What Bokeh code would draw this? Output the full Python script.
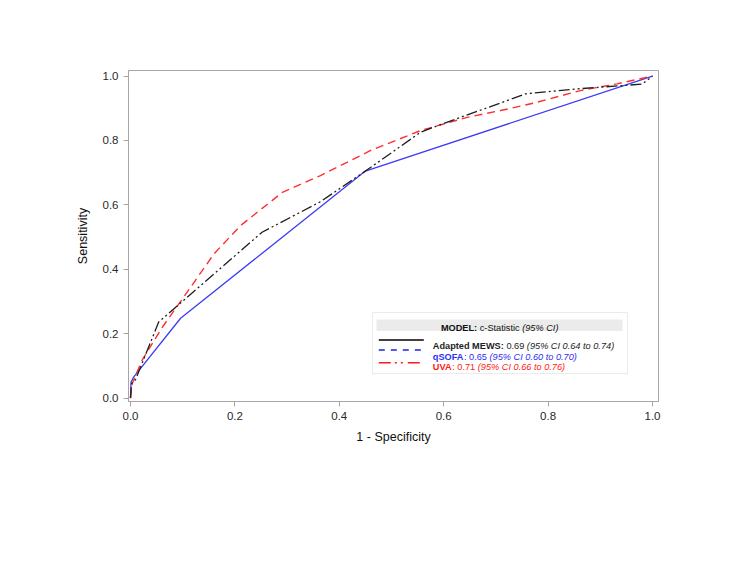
from bokeh.plotting import figure
from bokeh.models import Range1d, FixedTicker, PrintfTickFormatter, Label, BoxAnnotation
from bokeh.embed import file_html
from bokeh.resources import INLINE

# ---- data ----
mews_fpr = [0.0, 0.002, 0.010, 0.022, 0.054, 0.252, 0.364, 0.450, 0.556, 0.580, 0.757, 0.862, 0.980, 1.0]
mews_tpr = [0.0, 0.045, 0.058, 0.107, 0.236, 0.515, 0.610, 0.705, 0.826, 0.841, 0.945, 0.961, 0.975, 1.0]

qsofa_fpr = [0.0, 0.001, 0.006, 0.096, 0.450, 1.0]
qsofa_tpr = [0.0, 0.049, 0.065, 0.248, 0.705, 1.0]

uva_fpr = [0.0, 0.003, 0.022, 0.061, 0.096, 0.160, 0.211, 0.291, 0.364, 0.460, 0.556, 0.645, 0.709, 0.772, 0.862, 0.932, 1.0]
uva_tpr = [0.0, 0.044, 0.117, 0.220, 0.300, 0.448, 0.536, 0.639, 0.691, 0.769, 0.831, 0.872, 0.893, 0.916, 0.955, 0.976, 1.0]

ticks = [0.0, 0.2, 0.4, 0.6, 0.8, 1.0]

legend_title = [("MODEL:", "bold"), (" c-Statistic ", "normal"), ("(95% CI)", "italic")]
legend_rows = [
    [("Adapted MEWS:", "bold"), (" 0.69 ", "normal"), ("(95% CI 0.64 to 0.74)", "italic")],
    [("qSOFA", "bold"), (": 0.65 ", "normal"), ("(95% CI 0.60 to 0.70)", "italic")],
    [("UVA", "bold"), (": 0.71 ", "normal"), ("(95% CI 0.66 to 0.76)", "italic")],
]

# ---- styles ----
BLACK = "#1e1e1e"
BLUE = "#3c3cf5"
RED = "#ff2e2e"
GRAY = "#a6a6a6"
FONT = "Liberation Sans"

X0, X1 = -0.0038, 1.0115
Y0, Y1 = -0.0106, 1.0174
FW, FH = 530, 331
LEFT, TOP = 128, 70

p = figure(frame_width=FW, frame_height=FH,
           min_border_left=LEFT, min_border_right=67,
           min_border_top=TOP, min_border_bottom=149,
           x_range=Range1d(X0, X1), y_range=Range1d(Y0, Y1),
           output_backend="svg", toolbar_location=None,
           x_axis_label="1 - Specificity", y_axis_label="Sensitivity")

p.background_fill_color = "white"
p.border_fill_color = "white"
p.outline_line_color = GRAY
p.outline_line_width = 1
p.xgrid.visible = False
p.ygrid.visible = False

for ax in (p.xaxis[0], p.yaxis[0]):
    ax.ticker = FixedTicker(ticks=ticks)
    ax.formatter = PrintfTickFormatter(format="%.1f")
    ax.axis_line_color = GRAY
    ax.major_tick_line_color = GRAY
    ax.major_tick_out = 5
    ax.major_tick_in = 0
    ax.minor_tick_line_color = None
    ax.major_label_text_font = FONT
    ax.major_label_text_font_size = "11.5px"
    ax.major_label_text_color = "#2a2a2a"
    ax.major_label_standoff = 5
    ax.axis_label_text_font = FONT
    ax.axis_label_text_font_size = "12.5px"
    ax.axis_label_text_font_style = "normal"
    ax.axis_label_text_color = "#111111"
p.xaxis[0].axis_label_standoff = 7
p.yaxis[0].axis_label_standoff = 10

# ---- curves ----
p.line(qsofa_fpr, qsofa_tpr, line_color=BLUE, line_width=1.3)
p.line(uva_fpr, uva_tpr, line_color=RED, line_width=1.4, line_dash="8 5")
p.line(mews_fpr, mews_tpr, line_color=BLACK, line_width=1.3, line_dash="11 3 2 3 2 3")

# ---- legend (page pixel positions -> data coords) ----
PPX = FW / (X1 - X0)
PPY = FH / (Y1 - Y0)
def dx(px):
    return X0 + (px - LEFT) / PPX
def dy(py):
    return Y1 - (py - TOP) / PPY

p.add_layout(BoxAnnotation(left=dx(372), right=dx(627), top=dy(312), bottom=dy(373),
                           fill_color="white", fill_alpha=1.0,
                           line_color="#bdbdbd", line_width=1))
p.add_layout(BoxAnnotation(left=dx(376), right=dx(622), top=dy(319), bottom=dy(330.5),
                           fill_color="#ebebeb", fill_alpha=1.0, line_color=None))

REG = {' ': 278, '(': 333, ')': 333, '.': 278, ':': 278, '%': 889, '-': 333,
       'C': 722, 'I': 278, 'S': 667, 'a': 556, 'c': 500, 'i': 222, 's': 500,
       't': 278, 'o': 556, 'e': 556, 'n': 556}
BOLD = {' ': 278, ':': 333, 'A': 722, 'd': 611, 'a': 556, 'p': 611, 't': 333,
        'e': 556, 'M': 833, 'E': 667, 'W': 944, 'S': 667, 'q': 611, 'O': 778,
        'F': 611, 'U': 722, 'V': 667, 'D': 722, 'L': 611}
FS = 9.2
def width(txt, style):
    tab = BOLD if style == "bold" else REG
    return sum(tab.get(ch, 556) for ch in txt) * FS / 1000.0

def draw_rich(parts, x_left, y_base, color):
    x = x_left
    for txt, style in parts:
        core = txt.strip()
        lead = txt[:len(txt) - len(txt.lstrip())]
        x += width(lead, style)
        p.add_layout(Label(x=dx(x), y=dy(y_base), text=core, text_font=FONT,
                           text_font_size=f"{FS}px", text_font_style=style,
                           text_color=color, text_align="left",
                           text_baseline="alphabetic"))
        x += width(txt.lstrip(), style)

total = sum(width(t, s) for t, s in legend_title)
draw_rich(legend_title, 499.2 - total / 2, 327.8, "#111111")

row_colors = [BLACK, "#2f2ff5", "#ff2020"]
row_base = [345.8, 356.2, 366.6]
for parts, col, yb in zip(legend_rows, row_colors, row_base):
    draw_rich(parts, 432.3, yb, col)

# legend samples (styled like the reference legend)
sx0, sx1 = dx(378.3), dx(423.3)
p.segment(x0=[sx0], y0=[dy(339.6)], x1=[sx1], y1=[dy(339.6)],
          line_color="#000000", line_width=1.5, level="overlay")
p.segment(x0=[sx0], y0=[dy(349.6)], x1=[sx1], y1=[dy(349.6)],
          line_color="#1f1fe0", line_width=1.5, line_dash="6 6", level="overlay")
p.segment(x0=[sx0], y0=[dy(362.2)], x1=[sx1], y1=[dy(362.2)],
          line_color="#ff1a1a", line_width=1.5, line_dash="12 4 2 4 2 5", level="overlay")

open("out.html", "w").write(file_html(p, INLINE))
